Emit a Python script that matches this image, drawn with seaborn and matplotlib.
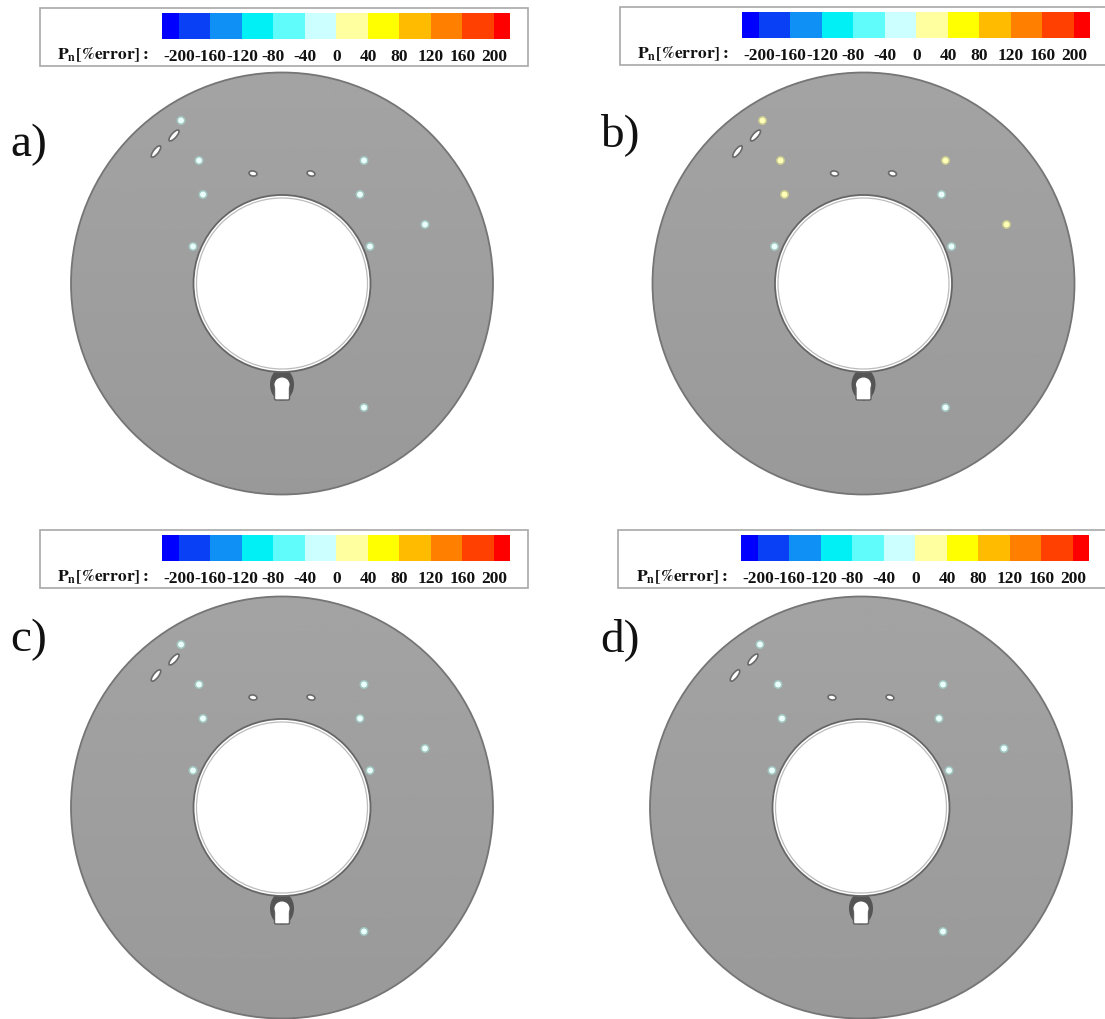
import numpy as np
import pandas as pd
import seaborn as sns
import matplotlib.pyplot as plt
from matplotlib.colors import ListedColormap
from matplotlib.patches import Circle, Ellipse, FancyBboxPatch, Rectangle

W, H = 1105, 1019

# colour scale
scale_mid = [-220, -180, -140, -100, -60, -20, 20, 60, 100, 140, 180, 220]
scale_colors = ['#0000ff', '#0a40f5', '#0f90f5', '#00f0f5', '#60fcfc', '#ccffff',
                '#ffffa0', '#ffff00', '#ffbb00', '#ff7f00', '#ff4000', '#ff0000']
scale_labels = ['-200', '-160', '-120', '-80', '-40', '0', '40', '80', '120', '160', '200']

# sensors, pixels from the disc centre
sensor_x = [-101, -83, -79, -89, 82, 78, 88, 143, 82]
sensor_y = [-163, -123, -89, -37, -123, -89, -37, -59, 124]

# error per sensor in each panel
err_a = [-20, -20, -20, -20, -20, -20, -20, -20, -20]
err_b = [20, 20, 20, -20, 20, -20, -20, 20, -20]
err_c = [-20, -20, -20, -20, -20, -20, -20, -20, -20]
err_d = [-20, -20, -20, -20, -20, -20, -20, -20, -20]

# film cooling slots
slot_x = [-126, -108, -29, 29]
slot_y = [-132, -148, -110, -110]
slot_w = [14, 14, 8, 8]
slot_h = [5, 5, 5, 5]
slot_a = [-52, -48, 10, 15]

panels = [
    ('a)', err_a, 282, 283.5, 40, 8, 528, 162, 10, 145),
    ('b)', err_b, 863.5, 283.5, 620, 7, 1110, 742, 600, 135),
    ('c)', err_c, 282, 807.5, 40, 530, 528, 162, 10, 640),
    ('d)', err_d, 861, 807.5, 618, 530, 1110, 741, 600, 640),
]

sns.set_theme(style='white')
plt.rcParams['font.family'] = ['Liberation Serif', 'DejaVu Serif']
plt.rcParams['mathtext.fontset'] = 'stix'

fig = plt.figure(figsize=(W / 100, H / 100), dpi=100, facecolor='white')
cmap = ListedColormap(scale_colors)
shade = np.linspace(0.64, 0.6, 200).reshape(-1, 1)


def draw_disc(ax, errs):
    R = 211
    disc = Circle((0, 0), R, transform=ax.transData)
    img = ax.imshow(shade, cmap='gray', vmin=0, vmax=1, extent=(-R, R, R, -R), zorder=1)
    img.set_clip_path(disc)
    ax.add_patch(Circle((0, 0), R, fc='none', ec='#757575', lw=1.3, zorder=2))

    # notch under the hole
    ax.add_patch(Ellipse((0, 101), 24, 32, fc='#555555', ec='none', zorder=2))
    ax.add_patch(FancyBboxPatch((-6, 101), 12, 14, boxstyle='round,pad=1.5', fc='white',
                                ec='#606060', lw=1, zorder=4))
    ax.add_patch(Ellipse((0, 101), 15, 14, fc='white', ec='none', zorder=5))

    # central hole with its thin liner
    ax.add_patch(Circle((0, 0), 88.5, fc='white', ec='#666666', lw=1.3, zorder=3))
    ax.add_patch(Circle((0, 0), 85.5, fc='white', ec='#bcbcbc', lw=0.9, zorder=3))

    for x, y, w, h, a in zip(slot_x, slot_y, slot_w, slot_h, slot_a):
        ax.add_patch(Ellipse((x, y), w, h, angle=a, fc='white', ec='#6a6a6a', lw=1.2, zorder=4))

    df = pd.DataFrame({'x': sensor_x, 'y': sensor_y, 'err': errs})
    glow = {-20: '#a6e6dc', 20: '#e6ea84'}
    core = {-20: '#eafffb', 20: '#ffffb8'}
    sns.scatterplot(data=df, x='x', y='y', hue='err', palette=glow, s=42, linewidth=0,
                    alpha=0.55, legend=False, ax=ax, zorder=6)
    sns.scatterplot(data=df, x='x', y='y', hue='err', palette=core, s=18, linewidth=0,
                    legend=False, ax=ax, zorder=7)


for name, errs, cx, cy, bx, by, bx1, bar_x, lx, ly in panels:
    ax = fig.add_axes([0, 0, 1, 1], facecolor='none')
    draw_disc(ax, errs)
    ax.set_xlim(-cx, W - cx)
    ax.set_ylim(H - cy, -cy)
    ax.set_aspect('auto')
    ax.axis('off')

    # legend frame
    ax.add_patch(Rectangle((bx - cx, by - cy), bx1 - bx, 58, fc='white', ec='#a8a8a8', lw=1.2,
                           zorder=8, clip_on=True))
    ax.text(bar_x - 105 - cx, by + 47 - cy, r'$\mathbf{P_n[\%error]:}$', fontsize=12.5,
            color='#111111', ha='left', va='center', zorder=9)
    ax.text(lx - cx, ly - cy, name, fontsize=34, color='#111111', ha='left', va='center', zorder=9)

    # colour bar
    cax = fig.add_axes([bar_x / W, 1 - (by + 31) / H, 348 / W, 26 / H])
    sns.heatmap(np.array([scale_mid]), ax=cax, cmap=cmap, vmin=-240, vmax=240, cbar=False,
                xticklabels=False, yticklabels=False)
    cax.set_xlim(0.46, 11.51)
    cax.set_xticks(np.arange(1, 12))
    cax.set_xticklabels(scale_labels, rotation=0, fontsize=12.5, fontweight='bold', color='#111111')
    cax.tick_params(axis='x', length=0, pad=7)
    cax.set_yticks([])

fig.savefig('out.png', dpi=100)
